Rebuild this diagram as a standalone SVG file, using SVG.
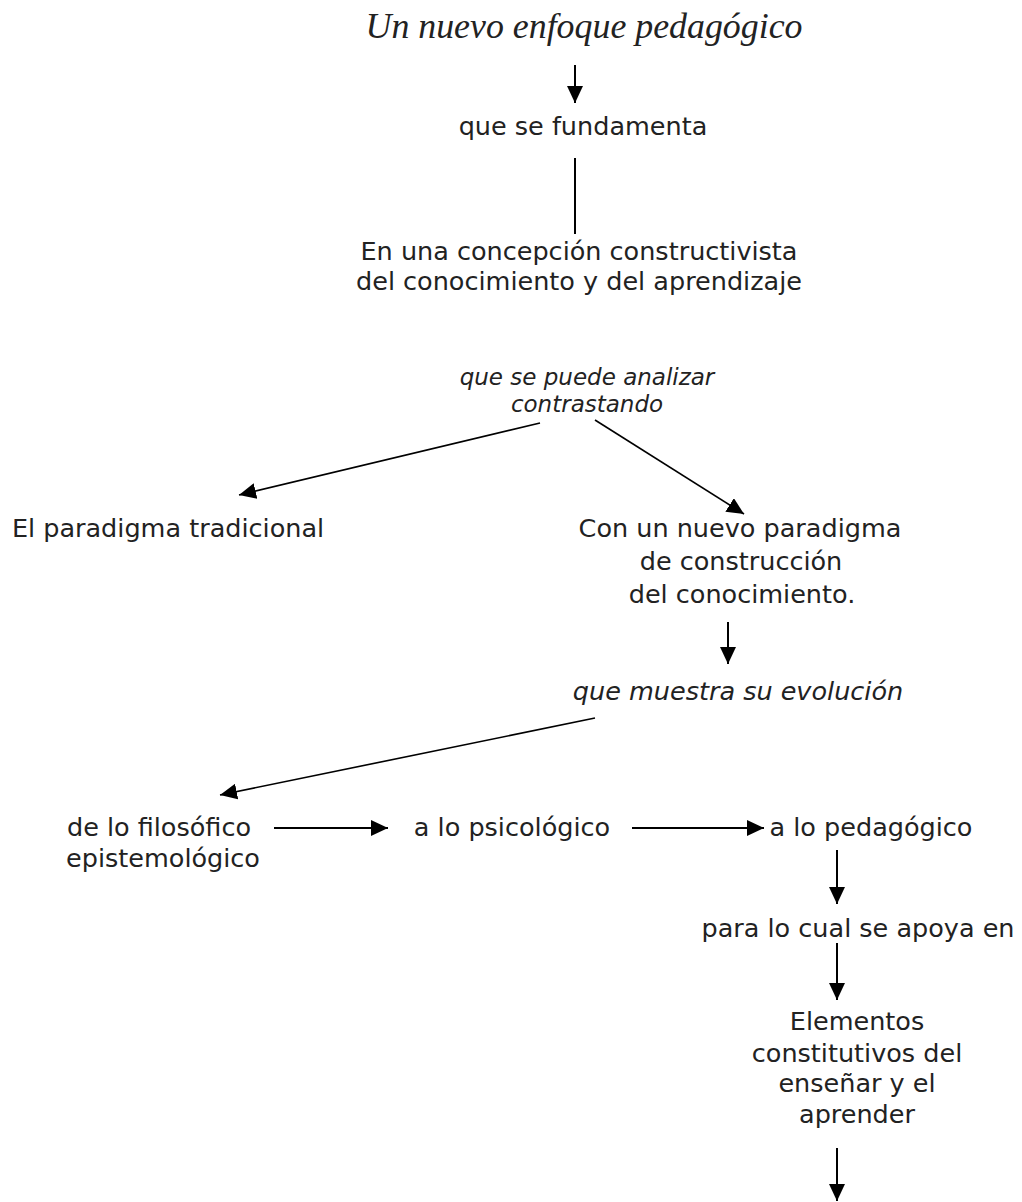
<svg xmlns="http://www.w3.org/2000/svg" width="1022" height="1202" viewBox="0 0 1022 1202">
<style>
.t{font-family:"DejaVu Sans",Verdana,sans-serif;font-size:25.5px;fill:#222;text-anchor:middle}
.i{font-style:italic}
.s{font-size:23px}
.title{font-family:"Liberation Serif","Times New Roman",serif;font-style:italic;font-size:36px;fill:#222;text-anchor:middle}
.c{stroke:#000;stroke-width:2;fill:none}
.d{stroke:#000;stroke-width:1.6;fill:none}
</style>
<defs>
<marker id="ah" markerUnits="userSpaceOnUse" markerWidth="18" markerHeight="16" refX="17" refY="8" orient="auto">
<path d="M0,0 L17,8 L0,16 Z" fill="#000"/>
</marker>
</defs>
<rect width="1022" height="1202" fill="#fff"/>
<g id="connectors">
<line class="c" x1="575" y1="65" x2="575" y2="103" marker-end="url(#ah)"/>
<line class="c" x1="575" y1="158" x2="575" y2="234"/>
<line class="d" x1="540" y1="423" x2="239" y2="495" marker-end="url(#ah)"/>
<line class="d" x1="595" y1="420" x2="744" y2="514" marker-end="url(#ah)"/>
<line class="c" x1="728" y1="622" x2="728" y2="664" marker-end="url(#ah)"/>
<line class="d" x1="595" y1="718" x2="220" y2="795" marker-end="url(#ah)"/>
<line class="c" x1="274" y1="828" x2="388" y2="828" marker-end="url(#ah)"/>
<line class="c" x1="632" y1="828" x2="764" y2="828" marker-end="url(#ah)"/>
<line class="c" x1="837" y1="850" x2="837" y2="904" marker-end="url(#ah)"/>
<line class="c" x1="837" y1="943" x2="837" y2="1000" marker-end="url(#ah)"/>
<line class="c" x1="837" y1="1148" x2="837" y2="1201" marker-end="url(#ah)"/>
</g>
<g id="n-title"><text class="title" x="584" y="38" textLength="437" lengthAdjust="spacingAndGlyphs">Un nuevo enfoque pedagógico</text></g>
<g id="n-fundamenta"><text class="t" x="583" y="135">que se fundamenta</text></g>
<g id="n-concepcion"><text class="t" x="579" y="260">En una concepción constructivista</text><text class="t" x="579" y="290">del conocimiento y del aprendizaje</text></g>
<g id="n-analizar"><text class="t i s" x="587" y="385">que se puede analizar</text><text class="t i s" x="587" y="412">contrastando</text></g>
<g id="n-tradicional"><text class="t" x="168" y="537">El paradigma tradicional</text></g>
<g id="n-nuevo"><text class="t" x="740" y="537">Con un nuevo paradigma</text><text class="t" x="741" y="570">de construcción</text><text class="t" x="742" y="603">del conocimiento.</text></g>
<g id="n-evolucion"><text class="t i" x="738" y="700">que muestra su evolución</text></g>
<g id="n-filosofico"><text class="t" x="159" y="836">de lo filosófico</text><text class="t" x="163" y="867">epistemológico</text></g>
<g id="n-psicologico"><text class="t" x="512" y="836">a lo psicológico</text></g>
<g id="n-pedagogico"><text class="t" x="871" y="836">a lo pedagógico</text></g>
<g id="n-apoya"><text class="t" x="858" y="937">para lo cual se apoya en</text></g>
<g id="n-elementos"><text class="t" x="857" y="1030">Elementos</text><text class="t" x="857" y="1062">constitutivos del</text><text class="t" x="857" y="1092">enseñar y el</text><text class="t" x="857" y="1123">aprender</text></g>
</svg>
